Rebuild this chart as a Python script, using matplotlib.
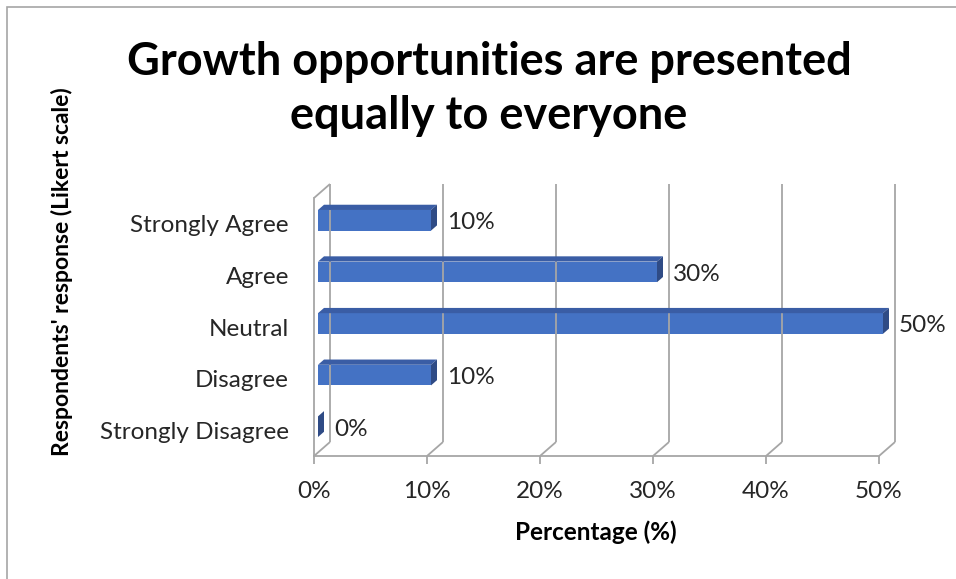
import matplotlib
matplotlib.use("Agg")
import matplotlib.pyplot as plt
from matplotlib.patches import Polygon, Rectangle
from matplotlib.lines import Line2D
from matplotlib.transforms import ScaledTranslation, IdentityTransform

plt.rcParams["font.family"] = ["Lato", "DejaVu Sans"]

categories = ["Strongly Disagree", "Disagree", "Neutral", "Agree", "Strongly Agree"]
values = [0, 10, 50, 30, 10]
xticks = [0, 10, 20, 30, 40, 50]
xtick_labels = ["0%", "10%", "20%", "30%", "40%", "50%"]

title = "Growth opportunities are presented\nequally to everyone"
xlabel = "Percentage (%)"
ylabel = "Respondents' response (Likert scale)"

W, H, DPI = 956, 579, 100
fig = plt.figure(figsize=(W / DPI, H / DPI), dpi=DPI)
fig.patch.set_facecolor("white")

# outer frame of the chart area
fig.add_artist(Rectangle((7 / W, -0.1), 1.2, 1.1 - 7 / H, transform=fig.transFigure,
                         fill=False, edgecolor="#A6A6A6", lw=1.2))

# front plane of the 3-D box
left, right, bottom, top = 314, 879, 456, 198
ax = fig.add_axes([left / W, (H - bottom) / H, (right - left) / W, (bottom - top) / H])
ax.set_xlim(0, 50)
ax.set_ylim(-0.5, 4.5)
ax.patch.set_visible(False)

GRID = "#A6A6A6"
for s in ["top", "right"]:
    ax.spines[s].set_visible(False)
for s in ["bottom", "left"]:
    ax.spines[s].set_color(GRID)
    ax.spines[s].set_linewidth(1.3)

TXT = "#262626"
FS = 17.5
ax.set_xticks(xticks)
ax.set_xticklabels(xtick_labels, fontsize=FS, color=TXT)
ax.tick_params(axis="x", length=6, width=1.3, color=GRID, pad=12)
ax.set_yticks(range(len(categories)))
ax.set_yticklabels(categories, fontsize=FS, color=TXT)
ax.tick_params(axis="y", length=0, pad=18)

# depth of the box: 16 px right, 14 px up
DX, DY = 0.16, 0.14


def depth(f):
    return ax.transData + ScaledTranslation(DX * f, DY * f, fig.dpi_scale_trans)


def P(x, y, f):
    return depth(f).transform((x, y))


def seg(p0, p1):
    fig.add_artist(Line2D([p0[0], p1[0]], [p0[1], p1[1]], transform=IdentityTransform(),
                          color=GRID, lw=1.3, solid_capstyle="butt"))


y0, y1 = -0.5, 4.5
# back wall gridlines and floor edges
for x in xticks:
    seg(P(x, y0, 1), P(x, y1, 1))
    seg(P(x, y0, 0), P(x, y0, 1))
# left wall top edge
seg(P(0, y1, 0), P(0, y1, 1))

# 3-D bars
FRONT, BACK = 0.25, 0.625
HALF = 0.2
C_FRONT, C_TOP, C_SIDE = "#4472C4", "#3A5DA5", "#2F4B85"
for i, v in enumerate(values):
    ax.add_patch(Rectangle((0, i - HALF), v, 2 * HALF, transform=depth(FRONT),
                           facecolor=C_FRONT, edgecolor="none", clip_on=False, zorder=3))
    top_face = [P(0, i + HALF, FRONT), P(v, i + HALF, FRONT),
                P(v, i + HALF, BACK), P(0, i + HALF, BACK)]
    side_face = [P(v, i - HALF, FRONT), P(v, i + HALF, FRONT),
                 P(v, i + HALF, BACK), P(v, i - HALF, BACK)]
    fig.add_artist(Polygon(top_face, closed=True, transform=IdentityTransform(),
                           facecolor=C_TOP, edgecolor="none", zorder=3))
    fig.add_artist(Polygon(side_face, closed=True, transform=IdentityTransform(),
                           facecolor=C_SIDE, edgecolor="none", zorder=3))
    ax.annotate(f"{v}%", xy=(v, i), xytext=(20 * 0.72, 1 * 0.72),
                textcoords="offset points", ha="left", va="center",
                fontsize=FS, color=TXT, annotation_clip=False)

fig.text(489 / W, 1 - 89 / H, title, ha="center", va="center", fontsize=32.5,
         fontweight="bold", color="black", linespacing=1.38)
fig.text(596 / W, 1 - 532 / H, xlabel, ha="center", va="center", fontsize=17.5,
         fontweight="bold", color="black")
fig.text(62 / W, 1 - 272 / H, ylabel, ha="center", va="center", rotation=90,
         fontsize=16.5, fontweight="bold", color="black")

fig.savefig("out.png", dpi=DPI, facecolor="white")
